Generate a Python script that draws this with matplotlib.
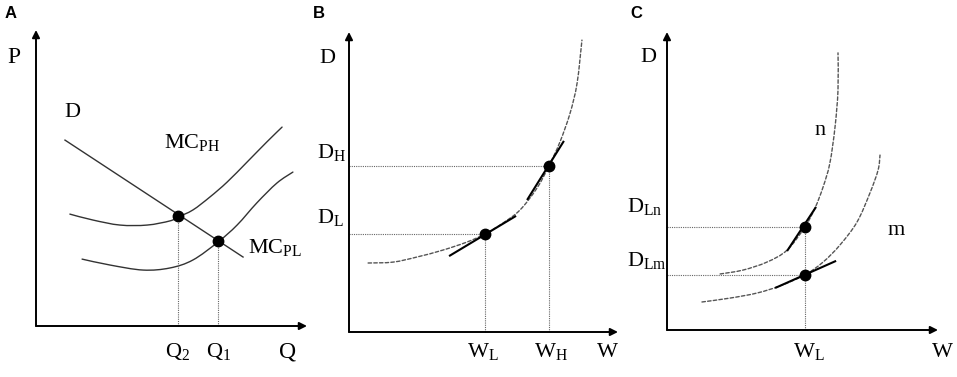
import matplotlib
matplotlib.use("Agg")
import matplotlib.pyplot as plt
from matplotlib.path import Path
from matplotlib.patches import PathPatch

plt.rcParams['font.family'] = ['Liberation Serif', 'DejaVu Serif']
plt.rcParams['mathtext.fontset'] = 'custom'
plt.rcParams['mathtext.rm'] = 'Liberation Serif'
plt.rcParams['mathtext.default'] = 'regular'

# ---------------- Panel A data ----------------
a_demand_x = [1.07, 7.64]
a_demand_y = [6.28, 2.33]
a_mcph_x = [1.25, 2.10, 3.10, 4.10, 4.94, 5.24, 5.79, 6.42, 7.05, 7.79, 8.52, 9.08]
a_mcph_y = [3.78, 3.58, 3.41, 3.41, 3.55, 3.68, 3.92, 4.36, 4.86, 5.54, 6.22, 6.72]
a_mcpl_x = [1.70, 2.73, 3.95, 4.94, 5.79, 6.72, 7.42, 8.15, 8.89, 9.48]
a_mcpl_y = [2.26, 2.06, 1.89, 1.96, 2.23, 2.84, 3.41, 4.16, 4.83, 5.20]
a_dots_x = [5.24, 6.72]
a_dots_y = [3.70, 2.86]
a_xticklabels = ["Q$_{2}$", "Q$_{1}$"]

# ---------------- Panel B data ----------------
b_curve_x = [0.71, 1.64, 2.53, 3.49, 4.39, 5.06, 5.72, 6.36, 6.99, 7.43, 7.84, 8.22, 8.48, 8.66]
b_curve_y = [2.30, 2.33, 2.50, 2.73, 3.00, 3.27, 3.63, 4.07, 4.80, 5.53, 6.33, 7.30, 8.30, 9.73]
b_dots_x = [5.06, 7.43]
b_dots_y = [3.27, 5.53]
b_tan_low_x = [3.72, 6.21]
b_tan_low_y = [2.53, 3.87]
b_tan_high_x = [6.62, 7.99]
b_tan_high_y = [4.40, 6.37]
b_xticklabels = ["W$_{L}$", "W$_{H}$"]
b_xtick_pos = [4.96, 7.51]
b_yticklabels = ["D$_{L}$", "D$_{H}$"]
b_ytick_pos = [3.63, 5.80]

# ---------------- Panel C data ----------------
c_n_x = [1.96, 2.80, 3.69, 4.43, 5.09, 5.46, 5.76, 6.01, 6.20, 6.31, 6.31]
c_n_y = [1.88, 2.01, 2.28, 2.68, 3.46, 4.09, 4.80, 5.60, 6.81, 8.05, 9.30]
c_m_x = [1.29, 2.32, 3.32, 4.17, 5.09, 5.76, 6.38, 7.01, 7.49, 7.79, 7.86]
c_m_y = [0.94, 1.07, 1.24, 1.48, 1.85, 2.28, 2.85, 3.62, 4.60, 5.37, 5.87]
c_dots_x = [5.09, 5.09]
c_dots_y = [3.46, 1.85]
c_tan_n_x = [4.43, 5.50]
c_tan_n_y = [2.65, 4.13]
c_tan_m_x = [3.99, 6.24]
c_tan_m_y = [1.41, 2.32]
c_yticklabels = ["D$_{Ln}$", "D$_{Lm}$"]
c_ytick_pos = [3.96, 2.15]

W, H = 957, 377
fig = plt.figure(figsize=(W / 100, H / 100), dpi=100)
fig.patch.set_facecolor('white')

FS = 16
SOLID = dict(edgecolor='#333333', lw=1.0, facecolor='none')
DASH = dict(edgecolor='#555555', lw=1.0, facecolor='none', linestyle=(0, (2.5, 1.6)))
DROP = dict(color='#666666', lw=0.8, linestyle=(0, (1, 1)))
TAN = dict(color='black', lw=1.5, solid_capstyle='butt')
DOT = dict(marker='o', color='black', markersize=7.5, linestyle='none', zorder=5)
TXT = dict(fontsize=FS, va='baseline')


def smooth_curve(ax, xs, ys, style):
    """Draw a smooth curve through the read points (Catmull-Rom as cubic Bezier)."""
    pts = list(zip(xs, ys))
    n = len(pts)
    verts = [pts[0]]
    codes = [Path.MOVETO]
    for i in range(n - 1):
        p0 = pts[i - 1] if i > 0 else pts[i]
        p1 = pts[i]
        p2 = pts[i + 1]
        p3 = pts[i + 2] if i + 2 < n else pts[i + 1]
        c1 = (p1[0] + (p2[0] - p0[0]) / 6, p1[1] + (p2[1] - p0[1]) / 6)
        c2 = (p2[0] - (p3[0] - p1[0]) / 6, p2[1] - (p3[1] - p1[1]) / 6)
        verts += [c1, c2, p2]
        codes += [Path.CURVE4] * 3
    patch = PathPatch(Path(verts, codes), clip_on=False, capstyle='round', **style)
    ax.add_patch(patch)


def make_axes(x0, y0, xt, yt):
    ax = fig.add_axes([x0 / W, (H - y0) / H, (xt - x0) / W, (y0 - yt) / H])
    ax.set_xlim(0, 10)
    ax.set_ylim(0, 10)
    ax.axis('off')
    for xy in [(10, 0), (0, 10)]:
        ax.annotate('', xy=xy, xytext=(0, 0),
                    arrowprops=dict(arrowstyle='-|>', lw=1.4, color='black',
                                    mutation_scale=11, shrinkA=0, shrinkB=0),
                    annotation_clip=False)
    return ax

# ---------- Panel A ----------
axA = make_axes(36, 326, 307, 30)
axA.plot(a_demand_x, a_demand_y, clip_on=False, color='#333333', lw=1.0)
smooth_curve(axA, a_mcph_x, a_mcph_y, SOLID)
smooth_curve(axA, a_mcpl_x, a_mcpl_y, SOLID)
for x, y in zip(a_dots_x, a_dots_y):
    axA.plot([x, x], [0, y], clip_on=False, **DROP)
axA.plot(a_dots_x, a_dots_y, clip_on=False, **DOT)
axA.text(-0.81, 8.89, "P", ha='center', fontsize=FS + 1, va='baseline')
axA.text(1.33, 7.06, "D", ha='center', **TXT)
axA.text(4.72, 6.01, "MC$_{PH}$", ha='left', **TXT)
axA.text(7.82, 2.47, "MC$_{PL}$", ha='left', **TXT)
for x, lab in zip(a_dots_x, a_xticklabels):
    axA.text(x, -1.05, lab, ha='center', **TXT)
axA.text(9.30, -1.05, "Q", ha='center', fontsize=FS + 1, va='baseline')

# ---------- Panel B ----------
axB = make_axes(349, 332, 618, 32)
smooth_curve(axB, b_curve_x, b_curve_y, DASH)
for x, y in zip(b_dots_x, b_dots_y):
    axB.plot([x, x], [0, y], clip_on=False, **DROP)
    axB.plot([0, x], [y, y], clip_on=False, **DROP)
axB.plot(b_tan_low_x, b_tan_low_y, clip_on=False, **TAN)
axB.plot(b_tan_high_x, b_tan_high_y, clip_on=False, **TAN)
axB.plot(b_dots_x, b_dots_y, clip_on=False, **DOT)
axB.text(-0.82, 8.97, "D", ha='center', **TXT)
for y, lab in zip(b_ytick_pos, b_yticklabels):
    axB.text(-1.19, y, lab, ha='left', **TXT)
for x, lab in zip(b_xtick_pos, b_xticklabels):
    axB.text(x, -0.83, lab, ha='center', **TXT)
axB.text(9.61, -0.83, "W", ha='center', **TXT)

# ---------- Panel C ----------
axC = make_axes(667, 330, 938, 32)
smooth_curve(axC, c_n_x, c_n_y, DASH)
smooth_curve(axC, c_m_x, c_m_y, DASH)
axC.plot([c_dots_x[0], c_dots_x[0]], [0, max(c_dots_y)], clip_on=False, **DROP)
for x, y in zip(c_dots_x, c_dots_y):
    axC.plot([0, x], [y, y], clip_on=False, **DROP)
axC.plot(c_tan_n_x, c_tan_n_y, clip_on=False, **TAN)
axC.plot(c_tan_m_x, c_tan_m_y, clip_on=False, **TAN)
axC.plot(c_dots_x, c_dots_y, clip_on=False, **DOT)
axC.text(-0.70, 9.0, "D", ha='center', **TXT)
for y, lab in zip(c_ytick_pos, c_yticklabels):
    axC.text(-1.48, y, lab, ha='left', **TXT)
axC.text(5.65, 6.54, "n", ha='center', **TXT)
axC.text(8.45, 3.19, "m", ha='center', **TXT)
axC.text(5.25, -0.9, "W$_{L}$", ha='center', **TXT)
axC.text(10.15, -0.9, "W", ha='center', **TXT)

# ---------- Panel letters ----------
for x, lab in [(5, "A"), (313, "B"), (630, "C")]:
    fig.text(x / W, 1 - 13 / H, lab, fontsize=12, fontweight='bold',
             family='Liberation Sans', ha='left', va='center')

fig.savefig("out.png", dpi=100, facecolor='white')
